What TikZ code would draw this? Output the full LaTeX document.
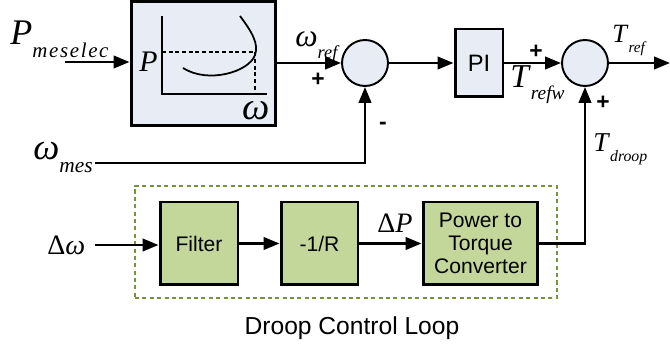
\documentclass[tikz,border=0pt]{standalone}
\usepackage{fontspec}
\setmainfont{Liberation Serif}
\setsansfont{Liberation Sans}
\usepackage{graphicx}
\usetikzlibrary{arrows.meta}

\definecolor{bluegray}{HTML}{E8ECF5}
\definecolor{droopfill}{HTML}{C4D79B}
\definecolor{droopline}{HTML}{77933C}

% symbol with a small lowered index
\newcommand{\sig}[2]{\textit{#1}\raisebox{-0.35em}{\scalebox{0.58}{\textit{#2}}}}
\newcommand{\fs}[1]{\fontsize{#1}{#1}\selectfont}

\tikzstyle{block} = [
    rectangle,
    draw=black,
    line width=1.7pt,
    fill=bluegray,
    font=\sffamily\fs{13.5}
]
\tikzstyle{sumnode} = [
    circle,
    draw=black,
    line width=1.1pt,
    fill=bluegray,
    minimum size=0.92cm,
    inner sep=0pt
]
\tikzstyle{droopstep} = [
    rectangle,
    draw=black,
    line width=1.7pt,
    fill=droopfill,
    minimum height=1.66cm,
    align=center,
    font=\sffamily\fontsize{12}{13}\selectfont
]
\tikzstyle{sym} = [inner sep=0pt, anchor=base west]
\tikzstyle{sign} = [inner sep=0pt, font=\sffamily\bfseries\fs{13}]
\tikzstyle{arrow} = [line width=1.5pt, -{Triangle[length=3.2mm,width=2.5mm]}]

\begin{document}
\begin{tikzpicture}[x=0.02cm, y=-0.02cm]
\useasboundingbox (0,0) rectangle (670,347);

% droop control loop frame
\node (loop) [draw=droopline, dash pattern=on 2.3pt off 1.9pt, line width=1.4pt,
    minimum width=8.44cm, minimum height=2.24cm, inner sep=0pt] at (346,242) {};
\node (looplabel) [inner sep=0pt, anchor=base, font=\sffamily\fs{14}] at (352,335)
{Droop Control Loop};

% main blocks
\node (curve) [block, minimum width=2.9cm, minimum height=2.5cm] at (203.5,63.5) {};
\node (sum1) [sumnode] at (365,63) {};
\node (pi) [block, minimum width=0.96cm, minimum height=1.36cm] at (479,63) {PI};
\node (sum2) [sumnode] at (585,63) {};

\node (filter) [droopstep, minimum width=1.56cm] at (199,243.5) {Filter};
\node (gain) [droopstep, minimum width=1.54cm] at (319.5,243.5) {-1/R};
\node (conv) [droopstep, minimum width=2.3cm] at (480.5,243.5)
{Power to\\Torque\\Converter};

% characteristic inside the block
\draw [line width=1.5pt] (162,16) -- (162,94) -- (267,94);
\draw [line width=1.4pt, dash pattern=on 2.2pt off 1.6pt] (162,52) -- (255,52) -- (255,94);
\draw [line width=1pt] (240,16) .. controls (252,32) and (259,44) .. (255,55)
    .. controls (249,72) and (208,84) .. (183,68);
\node (pax) [sym, font=\fs{17}] at (139,72) {\textit{P}};
\node (wax) [sym, font=\fs{22}] at (242,120) {\textit{ω}};

% signals
\coordinate (pin) at (65,62);
\coordinate (wmes) at (95,163);
\coordinate (dwin) at (95,245);
\coordinate (tout) at (670,63);

\node (pmeselec) [sym, font=\fs{20.5}] at (10,45) {\sig{P}{m\kern.08em e\kern.08em s\kern.08em e\kern.08em l\kern.08em e\kern.08em c}};
\node (wref) [sym, font=\fs{18}] at (295,47) {\sig{ω}{ref}};
\node (wmeslbl) [sym, font=\fs{21}] at (33,160) {\sig{ω}{mes}};
\node (trefw) [sym, font=\fs{19}] at (510,88) {\sig{T}{refw}};
\node (tref) [sym, font=\fs{15}] at (612,43) {\sig{T}{ref}};
\node (tdroop) [sym, font=\fs{15.5}] at (593,152) {\sig{T}{droop}};
\node (dw) [sym, font=\fs{16}] at (47,255) {Δ\textit{ω}};
\node (dp) [sym, font=\fs{16}] at (377,233) {Δ\textit{P}};

\node (plus1) [sign] at (318,80) {+};
\node (minus1) [sign] at (383,126) {-};
\node (plus2) [sign] at (536,52) {+};
\node (plus3) [sign] at (603,103) {+};

\draw [arrow] (pin) -- (pin -| curve.west);
\draw [arrow] (curve.east |- sum1) -- (sum1);
\draw [arrow] (sum1) -- (pi);
\draw [arrow] (pi) -- (sum2);
\draw [arrow] (sum2) -- (tout);
\draw [arrow] (wmes) -| (sum1.south);
\draw [arrow] (dwin) -- (dwin -| filter.west);
\draw [arrow] (filter) -- (gain);
\draw [arrow] (gain) -- (conv);
\draw [arrow] (conv.east) -| (sum2.south);

\end{tikzpicture}
\end{document}
